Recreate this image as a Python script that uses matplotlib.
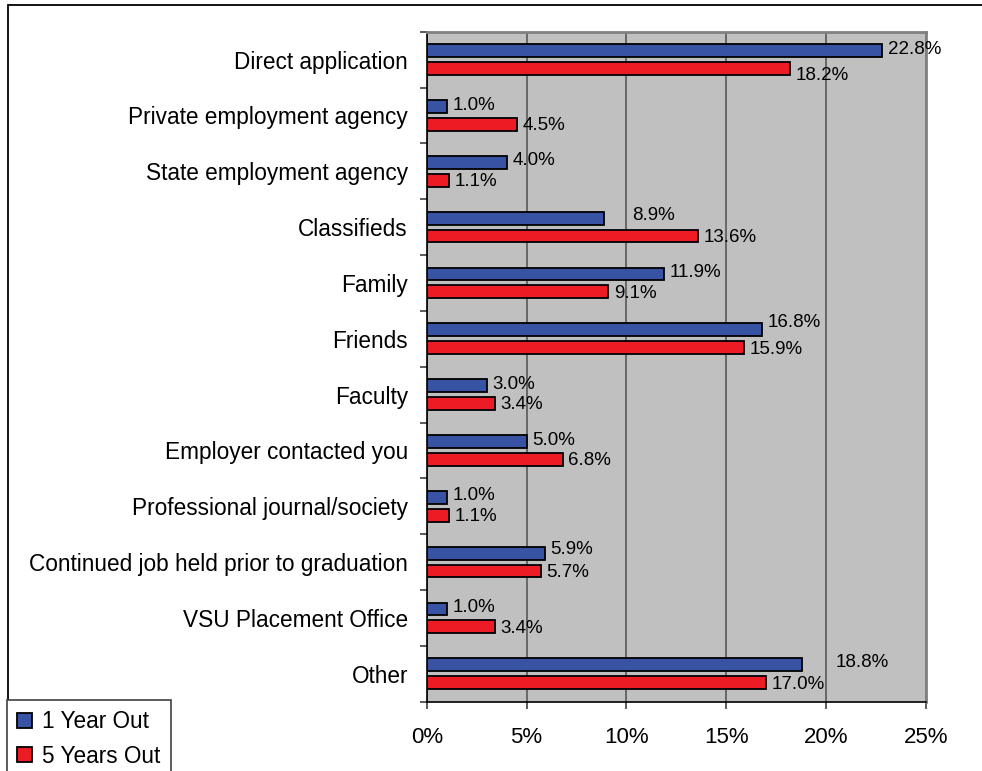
import matplotlib.pyplot as plt
import numpy as np
from matplotlib.patches import Rectangle

plt.rcParams['font.family'] = ['Liberation Sans', 'DejaVu Sans']

categories = ["Direct application", "Private employment agency", "State employment agency",
              "Classifieds", "Family", "Friends", "Faculty", "Employer contacted you",
              "Professional journal/society", "Continued job held prior to graduation",
              "VSU Placement Office", "Other"]
one_year = [22.8, 1.0, 4.0, 8.9, 11.9, 16.8, 3.0, 5.0, 1.0, 5.9, 1.0, 18.8]
five_years = [18.2, 4.5, 1.1, 13.6, 9.1, 15.9, 3.4, 6.8, 1.1, 5.7, 3.4, 17.0]

blue = '#3953A4'
red = '#ED1C24'

fig = plt.figure(figsize=(9.82, 7.71), dpi=100)
ax = fig.add_axes([426.7 / 982, 1 - 701.7 / 771, (926 - 426.7) / 982, (701.7 - 31.7) / 771])
ax.set_facecolor('#C0C0C0')

y = np.arange(len(categories))
h = 0.23
off = 0.16
ax.barh(y - off, one_year, height=h, color=blue, edgecolor='black', linewidth=1.3,
        label='1 Year Out', zorder=3)
ax.barh(y + off, five_years, height=h, color=red, edgecolor='black', linewidth=1.3,
        label='5 Years Out', zorder=3)

# label nudges (points) where Excel pushed labels away from the bar end
nudge_blue = {3: (16, 2), 5: (0, 5), 11: (20, 2), 9: (0, 3)}
nudge_red = {0: (0, -5)}
for i in range(len(categories)):
    dx, dy = nudge_blue.get(i, (0, 1))
    ax.annotate("%.1f%%" % one_year[i], (one_year[i], y[i] - off), xytext=(4 + dx, dy),
                textcoords='offset points', va='center', ha='left', fontsize=13.5, zorder=4)
    dx, dy = nudge_red.get(i, (0, -1))
    ax.annotate("%.1f%%" % five_years[i], (five_years[i], y[i] + off), xytext=(4 + dx, dy),
                textcoords='offset points', va='center', ha='left', fontsize=13.5, zorder=4)

ax.set_xlim(0, 25)
ax.set_ylim(len(categories) - 0.5, -0.5)
ax.set_xticks([0, 5, 10, 15, 20, 25])
ax.set_xticklabels(['0%', '5%', '10%', '15%', '20%', '25%'])
ax.set_yticks(y)
ax.set_yticklabels(categories)
ax.set_yticks(np.arange(len(categories) + 1) - 0.5, minor=True)
ax.tick_params(axis='y', which='major', length=0, pad=13.5, labelsize=16.3)
ax.tick_params(axis='y', which='minor', length=5, width=1.2, direction='out', color='#404040')
ax.tick_params(axis='x', length=5, width=1.2, color='#404040', pad=13, labelsize=16)

ax.grid(axis='x', color='#606060', linewidth=1.3, zorder=1)
for s in ['top', 'right']:
    ax.spines[s].set_color('#808080')
    ax.spines[s].set_linewidth(2)
for s in ['left', 'bottom']:
    ax.spines[s].set_color('black')
    ax.spines[s].set_linewidth(1.2)

leg = fig.legend(loc='upper left', bbox_to_anchor=(7 / 982, 1 - 700 / 771), fontsize=16.3,
                 handlelength=0.65, handleheight=0.65, handletextpad=0.45, labelspacing=0.5,
                 borderpad=0.45, borderaxespad=0, fancybox=False, framealpha=1,
                 edgecolor='#404040')
leg.get_frame().set_linewidth(1.2)

fig.patches.append(Rectangle((7.5 / 982, -0.05), 1.1, 1 - 5 / 771 + 0.05, fill=False,
                             edgecolor='black', linewidth=1.3, transform=fig.transFigure))

plt.savefig('out.png', dpi=100)
